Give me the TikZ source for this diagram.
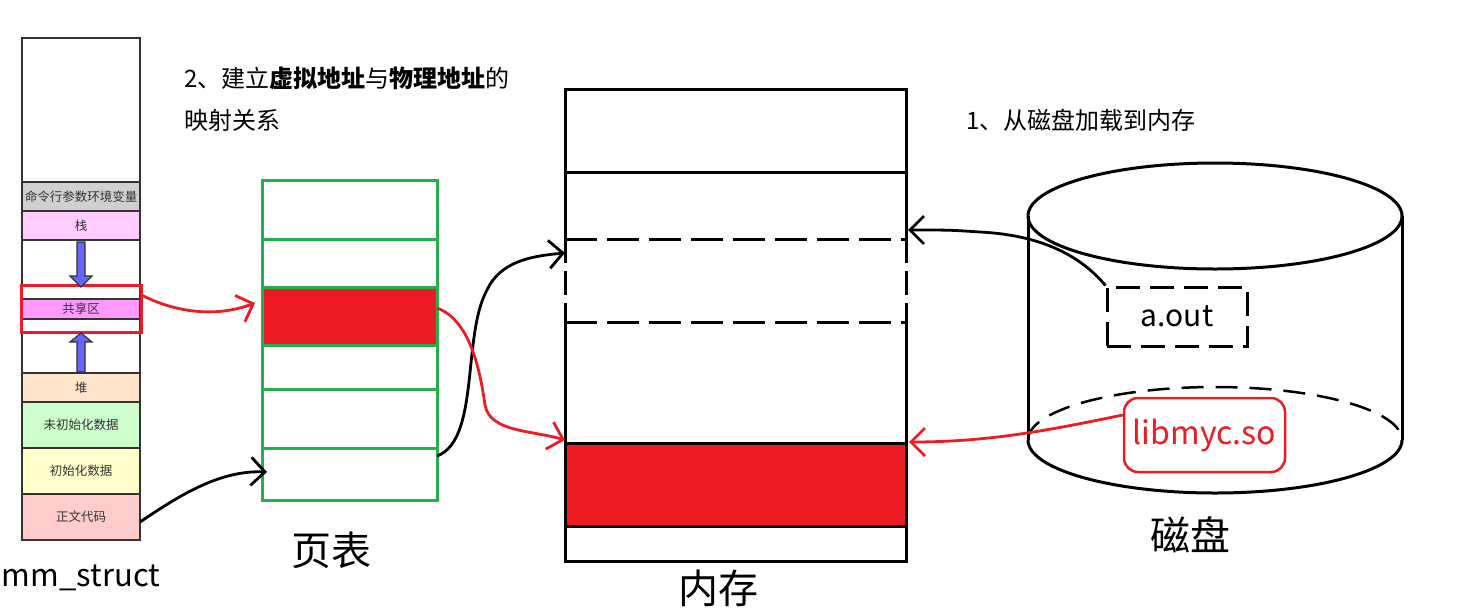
\documentclass[tikz,border=0pt]{standalone}
\usepackage{fontspec}
\setmainfont{Noto Sans CJK SC}
\usetikzlibrary{arrows.meta}
\definecolor{myred}{HTML}{ED1C24}
\definecolor{mygreen}{HTML}{22B14C}
\definecolor{mmline}{HTML}{333333}
\definecolor{argsgray}{HTML}{D0D0D0}
\definecolor{stackpink}{HTML}{FFCCFF}
\definecolor{sharedmag}{HTML}{FF99FF}
\definecolor{heapc}{HTML}{FFE4CC}
\definecolor{bssc}{HTML}{CCFFCC}
\definecolor{datac}{HTML}{FFFFCC}
\definecolor{textc}{HTML}{FFCCCC}
\definecolor{bluearrow}{HTML}{6666FF}
\tikzset{
  mmrow/.style={draw=mmline, line width=2pt, minimum width=118pt, inner sep=0pt, outer sep=0pt,
    font=\fontsize{12.5}{13}\selectfont, text=mmline},
  ptrow/.style={draw=mygreen, line width=3pt, minimum width=175pt, inner sep=0pt, outer sep=0pt},
  memrow/.style={minimum width=341pt, inner sep=0pt, outer sep=0pt},
  memline/.style={line width=3pt, black},
  dashline/.style={line width=3pt, dash pattern=on 32pt off 10pt},
  hand/.style={line width=2.8pt, -{Straight Barb[length=14pt,width=28pt]}},
  biglabel/.style={font=\fontsize{40}{44}\selectfont},
  note/.style={font=\fontsize{24}{27}\selectfont, anchor=west, inner sep=0pt},
}
\begin{document}
\begin{tikzpicture}[x=1pt,y=-1pt]
\useasboundingbox (0,0) rectangle (1475,614);
% ---------- mm_struct ----------
\node[mmrow, minimum height=144pt] (mtop) at (81,110) {};
\node[mmrow, fill=argsgray, minimum height=29pt] (margs) at (81,196.5) {命令行参数环境变量};
\node[mmrow, fill=stackpink, minimum height=29pt] (mstack) at (81,225.5) {栈};
\node[mmrow, fill=sharedmag, minimum height=20pt] (mshared) at (81,309) {共享区};
\node[mmrow, fill=heapc, minimum height=29pt] (mheap) at (81,387.5) {堆};
\node[mmrow, fill=bssc, minimum height=46pt] (mbss) at (81,425) {未初始化数据};
\node[mmrow, fill=datac, minimum height=46pt] (mdata) at (81,471) {初始化数据};
\node[mmrow, fill=textc, minimum height=46pt] (mtext) at (81,517) {正文代码};
\draw[mmline, line width=2pt] (22,38) rectangle (140,540);
\node[draw=myred, line width=3pt, minimum width=120pt, minimum height=47pt, inner sep=0pt] (mshr) at (81,308.5) {};
\draw[fill=bluearrow, draw=mmline, line width=1.2pt]
  (77,242) -- (85,242) -- (85,276) -- (92,276) -- (81,287) -- (70,276) -- (77,276) -- cycle;
\draw[fill=bluearrow, draw=mmline, line width=1.2pt]
  (77,372) -- (85,372) -- (85,342) -- (92,342) -- (81,333) -- (70,342) -- (77,342) -- cycle;
\node[font=\fontsize{31}{33}\selectfont] (mmlabel) at (81,578) {mm\_struct};
% ---------- page table ----------
\node[ptrow, minimum height=59pt] (p1) at (349.5,209.5) {};
\node[ptrow, minimum height=48pt] (p2) at (349.5,263) {};
\node[ptrow, fill=myred, minimum height=58pt] (p3) at (349.5,316) {};
\node[ptrow, minimum height=44pt] (p4) at (349.5,367) {};
\node[ptrow, minimum height=59pt] (p5) at (349.5,418.5) {};
\node[ptrow, minimum height=52pt] (p6) at (349.5,474) {};
\node[biglabel] (ptlabel) at (331,550) {页表};
% ---------- memory ----------
\node[memrow, draw, memline, minimum height=83pt] (r1) at (735.5,130.5) {};
\node[memrow, minimum height=67pt] (r2) at (735.5,205.5) {};
\node[memrow, minimum height=83pt] (r3) at (735.5,280.5) {};
\node[memrow, minimum height=121pt] (r4) at (735.5,382.5) {};
\node[memrow, draw, memline, fill=myred, minimum height=83pt] (r5) at (735.5,484.5) {};
\node[memrow, draw, memline, minimum height=35pt] (r6) at (735.5,543.5) {};
\draw[memline] (r2.south west) -- (r2.north west) -- (r2.north east) -- (r2.south east);
\draw[memline] (r4.north west) -- (r4.south west) -- (r4.south east) -- (r4.north east);
\draw[dashline] (r3.north west) -- (r3.north east);
\draw[dashline] (r3.south west) -- (r3.south east);
\draw[line width=3pt, dash pattern=on 24pt off 8pt] (r3.north west) -- (r3.south west);
\draw[line width=3pt, dash pattern=on 24pt off 8pt] (r3.north east) -- (r3.south east);
\node[biglabel] (memlabel) at (718,588) {内存};
% ---------- disk ----------
\draw[line width=3pt] (1028,216) -- (1028,440);
\draw[line width=3pt] (1402,216) -- (1402,440);
\draw[line width=3pt] (1215,216) ellipse [x radius=187, y radius=53];
\draw[line width=3pt] (1028,440) arc [start angle=180, end angle=0, x radius=187, y radius=53];
\draw[line width=2.5pt, dash pattern=on 22pt off 12pt] (1028,440) arc [start angle=180, end angle=360, x radius=187, y radius=53];
\node[draw, line width=3pt, dash pattern=on 24pt off 10pt, minimum width=140pt, minimum height=59pt,
  inner sep=0pt, font=\fontsize{30}{32}\selectfont] (aout) at (1177,316.5) {a.out};
\node[draw=myred, fill=white, text=myred, line width=2.5pt, rounded corners=14pt, minimum width=161pt,
  minimum height=74pt, inner sep=0pt, font=\fontsize{32}{34}\selectfont] (lib) at (1204.5,435) {libmyc.so};
\node[biglabel] (disklabel) at (1190,535) {磁盘};
% ---------- notes ----------
\node[note] (n2a) at (184,78) {2、建立\textbf{虚拟地址}与\textbf{物理地址}的};
\node[note] (n2b) at (184,120) {映射关系};
\node[note] (n1) at (966,120) {1、从磁盘加载到内存};
% ---------- connectors ----------
\draw[hand, myred] ([yshift=13pt]mshr.east) .. controls (175,312) and (215,318) .. ([xshift=-7pt,yshift=13pt]p3.west);
\draw[hand, black] ([yshift=-5pt]mtext.east) .. controls (180,495) and (220,470) .. ([xshift=5pt,yshift=2pt]p6.west);
\draw[hand, black] ([yshift=18pt]p6.east) .. controls (480,440) and (462,335) .. (487,290)
  .. controls (500,262) and (530,256) .. ([yshift=27.5pt]r3.west);
\draw[hand, myred] ([yshift=8pt]p3.east) .. controls (470,320) and (480,370) .. (485,405)
  .. controls (490,432) and (530,430) .. ([yshift=3pt]r5.north west);
\draw[hand, black] (aout.north west) .. controls (1080,255) and (1040,235) .. (980,232)
  .. controls (950,230) .. ([xshift=2pt,yshift=9pt]r3.north east);
\draw[hand, myred] ([yshift=20pt]lib.west) .. controls (1050,430) and (990,442) .. ([xshift=3pt,yshift=1pt]r5.north east);
\end{tikzpicture}
\end{document}
